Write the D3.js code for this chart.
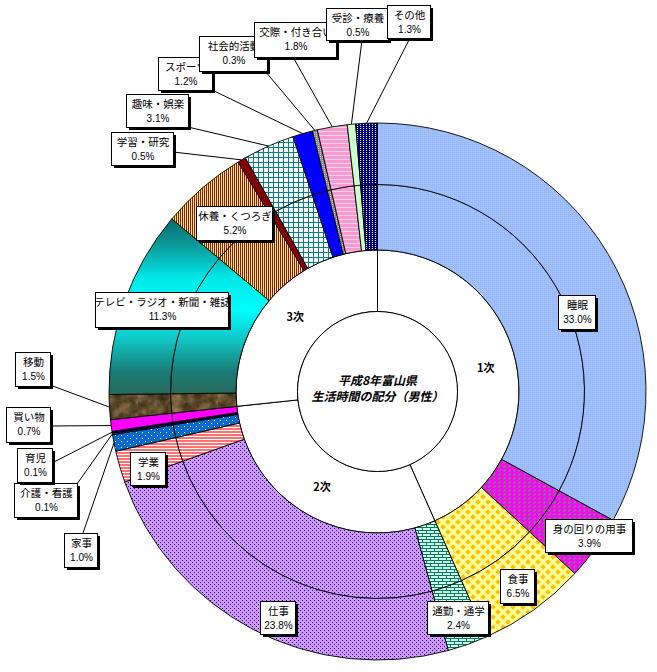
<!DOCTYPE html>
<html><head><meta charset="utf-8">
<script src="https://cdn.jsdelivr.net/npm/d3@7"></script>
<style>body{margin:0;background:#fff}svg{display:block}</style>
</head><body>
<svg id="chart" width="657" height="672"></svg>
<script>
// ---- data ----
const activities = ["睡眠","身の回りの用事","食事","通勤・通学","仕事","学業","家事","介護・看護","育児","買い物","移動","テレビ・ラジオ・新聞・雑誌","休養・くつろぎ","学習・研究","趣味・娯楽","スポーツ","社会的活動","交際・付き合い","受診・療養","その他"];
const shares = [33.0,3.9,6.5,2.4,23.8,1.9,1.0,0.1,0.1,0.7,1.5,11.3,5.2,0.5,3.1,1.2,0.3,1.8,0.5,1.3];
const groupOf = [0,0,0,1,1,1,1,1,1,1,2,2,2,2,2,2,2,2,2,2];
const groupNames = ["1次","2次","3次"];
const titleLines = ["平成8年富山県","生活時間の配分（男性）"];

// ---- styles / layout ----
const fills = ["url(#pSleep)","url(#pGroom)","url(#pMeal)","url(#pCommute)","url(#pWork)","url(#pSchool)","url(#pHouse)","#1a2a8a","#000080","#ff00ff","url(#pMove)","url(#gTV)","url(#pRest)","#800000","url(#pHobby)","#0000ff","url(#pSocial)","url(#pFriend)","#ccffcc","url(#pOther)"];
// label boxes: [x, y, w, h, anchorX, anchorY] (anchor = leader start, null = no leader)
const boxes = [
  [558,295,37,34,null,null],
  [545,519,87,33,null,null],
  [500,569,34,34,null,null],
  [427,601,61,33,null,null],
  [260,601,35,33,null,null],
  [130,452,35,33,null,null],
  [64,533,33,34,83,533],
  [14,483,63,34,77,484],
  [17,448,35,34,52,463],
  [6,407,44,35,50,426],
  [15,352,35,34,50,385],
  [95,292,133,35,null,null],
  [196,206,76,34,null,null],
  [111,132,62,33,173,152],
  [126,94,62,33,188,127],
  [158,57,54,33,212,90],
  [199,36,68,35,265,71],
  [254,22,82,35,293,57],
  [326,8,62,32,362,40],
  [387,5,43,33,410,38]
];
const cx = 377.5, cy = 391.5;
const r0 = 80, r1 = 141.5, r2 = 207, r3 = 268.5;
const font = "'Noto Sans CJK JP','Noto Sans',sans-serif";

const svg = d3.select("#chart");
const defs = svg.append("defs");

// patterns are referenced from the centred group: offset 0.5 keeps tiles on the pixel grid
function pat(id, w, h, bg, draw) {
  const p = defs.append("pattern").attr("id", id).attr("patternUnits","userSpaceOnUse")
    .attr("x", 0.5).attr("y", 0.5).attr("width", w).attr("height", h);
  p.append("rect").attr("width", w).attr("height", h).attr("fill", bg);
  draw(p);
}
pat("pSleep", 2, 2, "#9ec2f7", p => { p.append("rect").attr("width",1).attr("height",1).attr("fill","#99b0fa"); });
pat("pGroom", 5, 4, "#ff00ff", p => { p.append("path").attr("d","M0.5,3.5 L2.5,1.5").attr("stroke","#22cc22").attr("stroke-width",1.1); });
pat("pMeal", 10, 10, "#ffff99", p => {
  [[5,5],[0,0],[10,0],[0,10],[10,10]].forEach(([x,y]) =>
    p.append("path").attr("d",`M${x},${y-2.8}L${x+2.8},${y}L${x},${y+2.8}L${x-2.8},${y}Z`).attr("fill","#ffc000"));
});
pat("pCommute", 8, 6, "#ccffee", p => {
  p.append("path").attr("d","M0,0.5H8M0,3.5H8M0.5,0.5V3.5M4.5,3.5V6").attr("stroke","#0a7a5a").attr("stroke-width",1).attr("fill","none");
});
pat("pWork", 4, 4, "#cc99ff", p => {
  p.append("rect").attr("x",0).attr("y",0).attr("width",1).attr("height",1).attr("fill","#330066");
  p.append("rect").attr("x",2).attr("y",2).attr("width",1).attr("height",1).attr("fill","#330066");
});
pat("pSchool", 3, 3, "#ffffff", p => { p.append("rect").attr("width",3).attr("height",2).attr("fill","#ff7070"); });
pat("pHouse", 6, 6, "#0a6ad0", p => {
  p.append("rect").attr("x",1).attr("y",1).attr("width",1).attr("height",1).attr("fill","#fff");
  p.append("rect").attr("x",4).attr("y",4).attr("width",1).attr("height",1).attr("fill","#fff");
});
// brown marble texture
const fMove = defs.append("filter").attr("id","fMove").attr("x",0).attr("y",0).attr("width",1).attr("height",1)
  .attr("color-interpolation-filters","sRGB");
fMove.append("feTurbulence").attr("type","fractalNoise").attr("baseFrequency",0.09).attr("numOctaves",3).attr("seed",4);
fMove.append("feColorMatrix").attr("type","matrix").attr("values","0.6 0 0 0 0.08  0.5 0 0 0 0.05  0.34 0 0 0 0.01  0 0 0 0 1");
pat("pMove", 80, 80, "#4a3a28", p => { p.append("rect").attr("width",80).attr("height",80).attr("filter","url(#fMove)"); });
// TV gradient (coordinates in the centred group)
const g = defs.append("linearGradient").attr("id","gTV").attr("gradientUnits","userSpaceOnUse")
  .attr("x1",0).attr("y1",222 - cy).attr("x2",0).attr("y2",398 - cy);
[[0,"#0a7070"],[0.15,"#0aa0a0"],[0.32,"#00e8e8"],[0.5,"#00ffff"],[0.66,"#10c8c8"],[0.85,"#1a7c76"],[1,"#2a6658"]].forEach(([o,c]) => g.append("stop").attr("offset",o).attr("stop-color",c));
pat("pRest", 2, 2, "#ffff00", p => { p.append("rect").attr("width",1).attr("height",2).attr("fill","#8a008a"); });
pat("pHobby", 5, 5, "#ffffff", p => {
  p.append("path").attr("d","M0,0.5H5M0.5,0V5").attr("stroke","#008080").attr("stroke-width",1).attr("fill","none");
});
pat("pSocial", 2, 2, "#8a8a8a", p => { p.append("rect").attr("width",1).attr("height",1).attr("fill","#c8c8c8"); });
pat("pFriend", 4, 4, "#ff99cc", p => { p.append("rect").attr("y",3).attr("width",4).attr("height",1).attr("fill","#ddd6f6"); });
pat("pOther", 3, 2, "#000080", p => { p.append("rect").attr("width",1).attr("height",1).attr("fill","#f0f0c0"); });

const root = svg.append("g").attr("transform", `translate(${cx},${cy})`);
const pie = d3.pie().sort(null).value(d => d).startAngle(0).endAngle(2*Math.PI);
const arcs = pie(shares);

// inner white ring by group
const groupTotals = groupNames.map((_, gi) => d3.sum(shares.filter((_, i) => groupOf[i] === gi)));
const gArcs = pie(groupTotals);
const arcW = d3.arc().innerRadius(r0).outerRadius(r1);
root.selectAll("path.grp").data(gArcs).join("path").attr("class","grp")
  .attr("d", arcW).attr("fill","#fff").attr("stroke","#000").attr("stroke-width",1);
root.selectAll("text.grp").data(gArcs).join("text").attr("class","grp")
  .attr("transform", d => `translate(${arcW.centroid(d)})`)
  .attr("text-anchor","middle").attr("dy","0.35em")
  .attr("font-family", font).attr("font-size", 11).attr("font-weight","bold")
  .text((d,i) => groupNames[i]);

// two colored rings
[[r1,r2],[r2,r3]].forEach(([ri,ro]) => {
  const a = d3.arc().innerRadius(ri).outerRadius(ro);
  root.append("g").selectAll("path").data(arcs).join("path")
    .attr("d", a).attr("fill", (d,i) => fills[i]).attr("stroke","#000").attr("stroke-width",0.9);
});

// center circle + title
root.append("circle").attr("r", r0).attr("fill","#fff").attr("stroke","#000").attr("stroke-width",1);
root.selectAll("text.title").data(titleLines).join("text").attr("class","title")
  .attr("x", 0).attr("y", (d,i) => -7 + i*16).attr("text-anchor","middle")
  .attr("font-family", font).attr("font-size", 12).attr("font-weight","bold").attr("font-style","italic")
  .text(d => d);

// leader lines
const leaders = svg.append("g");
arcs.forEach((d, i) => {
  const b = boxes[i];
  if (b[4] == null) return;
  const mid = (d.startAngle + d.endAngle) / 2;
  const ex = cx + r3 * Math.sin(mid), ey = cy - r3 * Math.cos(mid);
  leaders.append("line").attr("x1", b[4]).attr("y1", b[5]).attr("x2", ex).attr("y2", ey)
    .attr("stroke","#000").attr("stroke-width",1);
});

// label boxes (drawn in data order so later boxes overlap earlier)
const lab = svg.append("g");
arcs.forEach((d, i) => {
  const [x,y,w,h] = boxes[i];
  const gg = lab.append("g");
  gg.append("rect").attr("x", x+3).attr("y", y+3).attr("width", w).attr("height", h).attr("fill","#000");
  gg.append("rect").attr("x", x+0.5).attr("y", y+0.5).attr("width", w).attr("height", h).attr("fill","#fff").attr("stroke","#000").attr("stroke-width",1);
  gg.append("text").attr("x", x + w/2 + 1).attr("y", y + 14).attr("text-anchor","middle")
    .attr("font-family", font).attr("font-size", 10.5).text(activities[i]);
  gg.append("text").attr("x", x + w/2 + 1).attr("y", y + 28).attr("text-anchor","middle")
    .attr("font-family", "'Liberation Sans Narrow','Liberation Sans',sans-serif").attr("font-size", 10).text(shares[i].toFixed(1) + "%");
});
</script>
</body></html>
